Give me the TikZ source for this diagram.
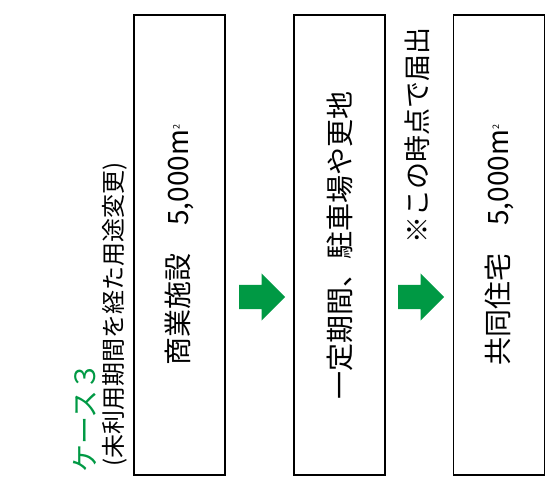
\documentclass[tikz,border=0pt]{standalone}
\usepackage{fontspec}
\setmainfont{Noto Sans CJK JP}
\usetikzlibrary{shapes.arrows}
\definecolor{caseGreen}{RGB}{0,153,68}
\tikzset{
  stage/.style = {draw, line width = 1.6pt, rotate = 90, minimum width = 460pt,
    minimum height = 91pt, inner sep = 0pt, font = \fontsize{28}{30}\selectfont},
  go/.style = {single arrow, fill = caseGreen, draw = none, inner xsep = 0pt,
    inner ysep = 12pt, text height = 0pt, text depth = 0pt, anchor = tail,
    minimum height = 46pt, single arrow head extend = 11.5pt},
  note/.style = {rotate = 90, inner sep = 0pt}
}

\begin{document}
\begin{tikzpicture}[x = 1pt, y = -1pt]
\useasboundingbox (0,0) rectangle (546,477);
% the three stages
\node [stage] (shogyo) at (179.5,245) {商業施設　5,000m\textsuperscript{\fontsize{9}{9}\selectfont 2}};
\node [stage] (akichi) at (339.5,245) {一定期間、駐車場や更地};
\node [stage] (jutaku) at (499,245) {共同住宅　5,000m\textsuperscript{\fontsize{9}{9}\selectfont 2}};
% arrows
\node [go] (go-1) at (239,297) {};
\node [go] (go-2) at (398,297) {};
\node [note, font = \fontsize{27}{30}\selectfont] (todoke) at (417,135) {※この時点で届出};
% title
\node [note, anchor = west, text = caseGreen, font = \fontsize{28}{30}\selectfont] (case) at (85,473) {ケース３};
\node [note, anchor = west, font = \fontsize{24}{28}\selectfont] (sub) at (115,467) {(未利用期間を経た用途変更)};
\end{tikzpicture}
\end{document}
